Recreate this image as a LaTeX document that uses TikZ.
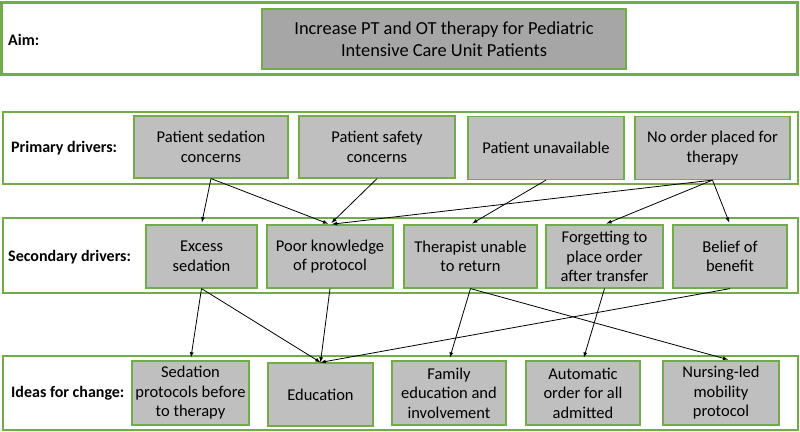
\documentclass[tikz,border=0pt]{standalone}
\usepackage{fontspec}
\setmainfont{Carlito}
\definecolor{framegreen}{HTML}{70AD47}
\definecolor{boxgray}{HTML}{BFBFBF}
\definecolor{aimgray}{HTML}{A6A6A6}

\begin{document}
\begin{tikzpicture}[x=1pt, y=-1pt,
    frame/.style = {draw=framegreen, line width=2.5pt, fill=white},
    box/.style = {draw=framegreen, line width=1.2pt, fill=boxgray, align=center,
      font=\fontsize{16.5}{19.5}\selectfont, minimum height=63pt, inner sep=1pt},
    rowlabel/.style = {anchor=west, font=\bfseries\fontsize{16}{19}\selectfont, inner sep=0pt},
    arr/.style = {->, >=latex, line width=0.8pt}]
    \useasboundingbox (0,0) rectangle (800,431);

    % row frames
    \draw[frame] (1.5,2.5) rectangle (797.5,74.5);
    \draw[frame] (3,112) rectangle (798,184);
    \draw[frame] (3,218) rectangle (798,293);
    \draw[frame] (3,356) rectangle (798,430);

    % row labels
    \node[rowlabel] (aimlbl) at (8,40) {Aim:};
    \node[rowlabel] (primlbl) at (11,148) {Primary drivers:};
    \node[rowlabel] (seclbl) at (8,257) {Secondary drivers:};
    \node[rowlabel] (idealbl) at (11,393) {Ideas for change:};

    % aim
    \node[box, fill=aimgray, minimum width=364pt, minimum height=60pt,
      font=\fontsize{18.4}{22}\selectfont] (aim) at (444,39)
      {Increase PT and OT therapy for Pediatric\\Intensive Care Unit Patients};

    % primary drivers
    \node[box, minimum width=154pt, minimum height=62pt] (p1) at (211,147) {Patient sedation\\concerns};
    \node[box, minimum width=156pt, minimum height=62pt] (p2) at (377,147) {Patient safety\\concerns};
    \node[box, minimum width=156pt] (p3) at (546,148) {Patient unavailable};
    \node[box, minimum width=155pt] (p4) at (712.5,148) {No order placed for\\therapy};

    % secondary drivers
    \node[box, minimum width=111pt] (s1) at (201.5,256.5) {Excess\\sedation};
    \node[box, minimum width=126pt] (s2) at (330,256.5) {Poor knowledge\\of protocol};
    \node[box, minimum width=133pt] (s3) at (470.5,256.5) {Therapist unable\\to return};
    \node[box, minimum width=117pt] (s4) at (604.5,256.5) {Forgetting to\\place order\\after transfer};
    \node[box, minimum width=114pt] (s5) at (730,256.5) {Belief of\\benefit};

    % ideas for change
    \node[box, minimum width=117pt, minimum height=64pt] (i1) at (190.5,393) {Sedation\\protocols before\\to therapy};
    \node[box, minimum width=105pt] (i2) at (320.5,394.5) {Education};
    \node[box, minimum width=114pt, minimum height=64pt] (i3) at (449,393) {Family\\education and\\involvement};
    \node[box, minimum width=114pt, minimum height=64pt] (i4) at (583,393) {Automatic\\order for all\\admitted};
    \node[box, minimum width=116pt, minimum height=64pt] (i5) at (721,393) {Nursing-led\\mobility\\protocol};

    % primary -> secondary
    \draw[arr, shorten >=2pt] (p1.south) -- (s1.north);
    \draw[arr, shorten >=2pt] (p1.south) -- (s2.north);
    \draw[arr, shorten >=2pt] (p2.south) -- (s2.north);
    \draw[arr, shorten >=2pt] (p4.south) -- (s2.north);
    \draw[arr, shorten >=2pt] (p3.south) -- (s3.north);
    \draw[arr, shorten >=2pt] (p4.south) -- (s4.north);
    \draw[arr, shorten >=2pt] (p4.south) -- (s5.north);

    % secondary -> ideas
    \draw[arr, shorten >=3pt] (s1.south) -- (i1.north);
    \draw[arr] (s1.south) -- (i2.north);
    \draw[arr] (s2.south) -- (i2.north);
    \draw[arr] (s5.south) -- (i2.north);
    \draw[arr, shorten >=3pt] (s3.south) -- (i3.north);
    \draw[arr, shorten >=3pt] (s3.south) -- ([xshift=10pt]i5.north);
    \draw[arr, shorten >=3pt] (s4.south) -- (i4.north);
\end{tikzpicture}
\end{document}
